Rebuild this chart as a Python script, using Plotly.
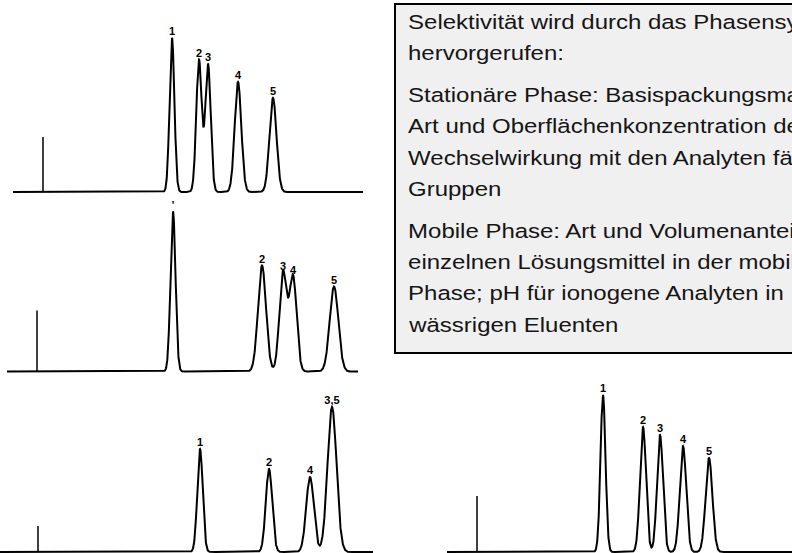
import numpy as np
import plotly.graph_objects as go

W, H = 792, 553

# ---------------- data (retention in px-scaled time units, heights in signal units) ----------
# Panel A (top left)
a_labels = ["1", "2", "3", "4", "5"]
a_rt = [159, 186, 195, 225, 260]
a_height = [154, 132, 128, 110, 94]
a_sigma = [2.4, 2.7, 2.7, 3.3, 3.5]
a_inject = 30
a_inject_h = 55

# Panel B (middle left)
b_labels = ["'", "2", "3", "4", "5"]
b_rt = [166, 255, 276, 286, 327]
b_height = [160, 106, 99, 95, 85]
b_sigma = [2.5, 4.0, 3.6, 3.6, 4.3]
b_inject = 30
b_inject_h = 61

# Panel C (bottom left)
c_labels = ["1", "2", "4", "3,5"]
c_rt = [200, 269, 310, 332]
c_height = [103, 83, 75, 145]
c_sigma = [2.7, 3.2, 3.8, 4.5]
c_inject = 38
c_inject_h = 26

# Panel D (bottom right)
d_labels = ["1", "2", "3", "4", "5"]
d_rt = [156, 196, 213, 236, 262]
d_height = [157, 125, 117, 106, 94]
d_sigma = [2.5, 3.0, 3.0, 3.2, 3.4]
d_inject = 30
d_inject_h = 56

text_lines = [
    "Selektivität wird durch das Phasensystem",
    "hervorgerufen:",
    "Stationäre Phase: Basispackungsmaterial,",
    "Art und Oberflächenkonzentration der zur",
    "Wechselwirkung mit den Analyten fähigen",
    "Gruppen",
    "Mobile Phase: Art und Volumenanteil der",
    "einzelnen Lösungsmittel in der mobilen",
    "Phase; pH für ionogene Analyten in",
    "wässrigen Eluenten",
]
paragraph_start = [0, 2, 6]

# ---------------- layout geometry (pixels) ----------------
panels = [
    dict(x0=13, x1=363, base=192, pad=5, labels=a_labels, rt=a_rt, h=a_height, s=a_sigma,
         inj=a_inject, inj_h=a_inject_h),
    dict(x0=7, x1=358, base=371.5, pad=5, labels=b_labels, rt=b_rt, h=b_height, s=b_sigma,
         inj=b_inject, inj_h=b_inject_h),
    dict(x0=0, x1=373, base=552, pad=1, labels=c_labels, rt=c_rt, h=c_height, s=c_sigma,
         inj=c_inject, inj_h=c_inject_h),
    dict(x0=447, x1=792, base=552, pad=1, labels=d_labels, rt=d_rt, h=d_height, s=d_sigma,
         inj=d_inject, inj_h=d_inject_h),
]

fig = go.Figure()
layout_axes = {}
for i, p in enumerate(panels, start=1):
    L = p["x1"] - p["x0"]
    t = np.linspace(0, L, int(L * 8) + 1)
    sig = np.zeros_like(t)
    for rt, hh, ss in zip(p["rt"], p["h"], p["s"]):
        sig += hh * np.exp(-((t - rt) ** 2) / (2 * ss ** 2))
    xa = "x" if i == 1 else f"x{i}"
    ya = "y" if i == 1 else f"y{i}"
    fig.add_trace(go.Scatter(x=t, y=sig, mode="lines", xaxis=xa, yaxis=ya,
                             line=dict(color="black", width=2), hoverinfo="skip",
                             showlegend=False))
    fig.add_trace(go.Scatter(x=[p["inj"], p["inj"]], y=[0, p["inj_h"]], mode="lines",
                             xaxis=xa, yaxis=ya, line=dict(color="black", width=1.5),
                             hoverinfo="skip", showlegend=False))
    fig.add_trace(go.Scatter(x=p["rt"], y=p["h"], mode="text", text=p["labels"],
                             textposition="top center", xaxis=xa, yaxis=ya,
                             textfont=dict(family="Liberation Sans", size=11, color="black",
                                           weight="bold"),
                             cliponaxis=False, hoverinfo="skip", showlegend=False))
    top = p["base"]
    xkey = "xaxis" if i == 1 else f"xaxis{i}"
    ykey = "yaxis" if i == 1 else f"yaxis{i}"
    layout_axes[xkey] = dict(domain=[p["x0"] / W, p["x1"] / W], range=[0, L], visible=False,
                             anchor=ya, fixedrange=True)
    layout_axes[ykey] = dict(domain=[max(0, (H - p["base"] - p["pad"]) / H), 1],
                             range=[-p["pad"], top], visible=False, anchor=xa, fixedrange=True)

fig.update_layout(width=W, height=H, margin=dict(l=0, r=0, t=0, b=0),
                  paper_bgcolor="white", plot_bgcolor="rgba(0,0,0,0)", **layout_axes)

# text box
box_left, box_top, box_bottom = 395, 4, 353
fig.add_shape(type="rect", xref="paper", yref="paper", x0=box_left / W, x1=1.1,
              y0=1 - box_bottom / H, y1=1 - box_top / H,
              line=dict(color="black", width=2), fillcolor="#f0f0f0", layer="below")

font_size = 20.5
line_gap = 31.3
para_gap = 10.5
y_base = 28.7
for k, line in enumerate(text_lines):
    npara = sum(1 for s in paragraph_start if s <= k) - 1
    baseline = y_base + k * line_gap + npara * para_gap
    fig.add_annotation(xref="paper", yref="paper", x=406.5 / W,
                       y=1 - (baseline - 0.35 * font_size) / H,
                       xanchor="left", yanchor="middle", text=line, showarrow=False,
                       font=dict(family="Liberation Sans", size=font_size, color="#151515"),
                       borderpad=0)

# the reference text is horizontally stretched; widen the box text glyphs accordingly
stretch_js = """
var gd = document.getElementById('{plot_id}');
function stretchText() {
  gd.querySelectorAll('g.annotation text').forEach(function (t) {
    if (t.getAttribute('data-stretched')) return;
    var bb = t.getBBox();
    var bx = bb.x;
    var prev = t.getAttribute('transform') || '';
    t.setAttribute('transform', prev + ' translate(' + bx + ',0) scale(1.17,1) translate(' + (-bx) + ',0)');
    t.setAttribute('data-stretched', '1');
  });
}
stretchText();
gd.on('plotly_afterplot', stretchText);
"""

fig.write_html("out.html", post_script=stretch_js)
